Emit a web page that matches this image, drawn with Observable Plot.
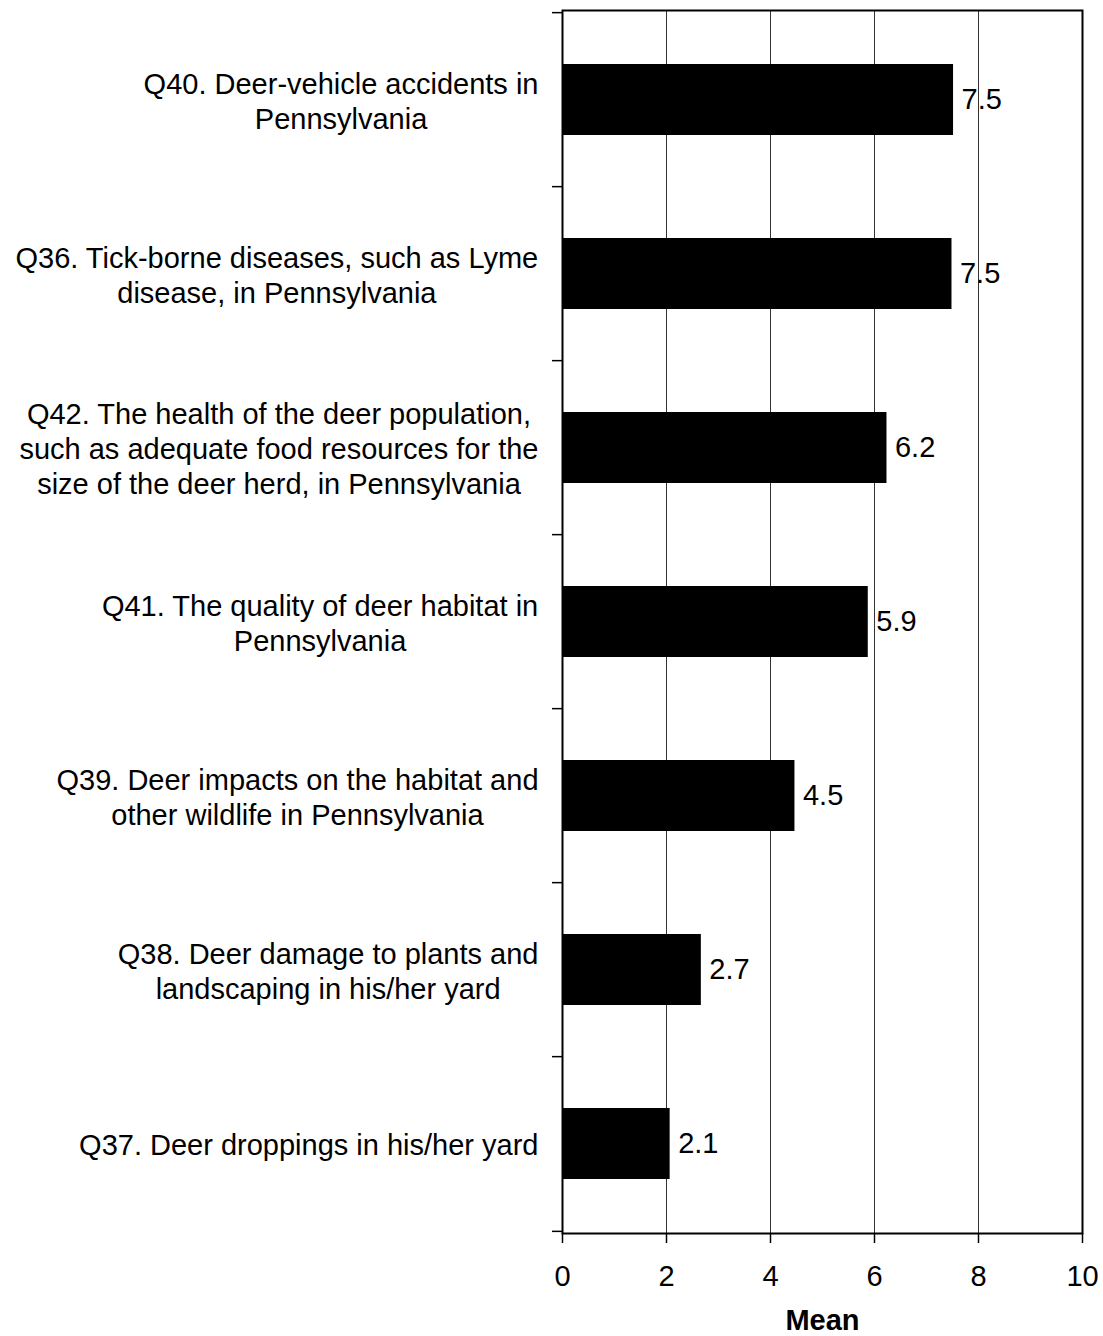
<!DOCTYPE html>
<html><head><meta charset="utf-8">
<script src="https://cdn.jsdelivr.net/npm/d3@7"></script>
<script src="https://cdn.jsdelivr.net/npm/@observablehq/plot@0.6"></script>
<style>body{margin:0;background:#fff;}</style>
</head><body><div id="chart"></div>
<script>
const categories = ["Q40", "Q36", "Q42", "Q41", "Q39", "Q38", "Q37"];
const labelLines = [
  ["Q40. Deer-vehicle accidents in", "Pennsylvania"],
  ["Q36. Tick-borne diseases, such as Lyme", "disease, in Pennsylvania"],
  ["Q42. The health of the deer population,", "such as adequate food resources for the", "size of the deer herd, in Pennsylvania"],
  ["Q41. The quality of deer habitat in", "Pennsylvania"],
  ["Q39. Deer impacts on the habitat and", "other wildlife in Pennsylvania"],
  ["Q38. Deer damage to plants and", "landscaping in his/her yard"],
  ["Q37. Deer droppings in his/her yard"]
];
const means = [7.52, 7.49, 6.24, 5.88, 4.47, 2.67, 2.07];
const xTicks = [0, 2, 4, 6, 8, 10];
const gridValues = [2, 4, 6, 8];
const axisTitle = "Mean";

const FONT = "'Liberation Sans', Arial, Helvetica, sans-serif";
const W = 1103, H = 1336, mL = 562, mT = 10, mR = 21, mB = 103;
const FS = 29;
const step = (H - mT - mB) / categories.length;
const pxPerUnit = (W - mL - mR) / 10;

const data = categories.map((c, i) => ({cat: c, mean: means[i], lines: labelLines[i]}));

const ctx = document.createElement("canvas").getContext("2d");
ctx.font = `${FS}px ${FONT}`;

const labelMarks = data.map(d => {
  const w = Math.max(...d.lines.map(l => ctx.measureText(l).width));
  return Plot.text([d], {
    y: "cat", text: r => r.lines.join("\n"), frameAnchor: "left",
    textAnchor: "middle", lineAnchor: "middle", dx: -24 - w / 2,
    lineHeight: 1.2, fontSize: FS, fill: "black"
  });
});

const chart = Plot.plot({
  width: W, height: H,
  marginLeft: mL, marginTop: mT, marginRight: mR, marginBottom: mB,
  style: {fontFamily: FONT, background: "white", color: "black"},
  x: {domain: [0, 10], axis: null},
  y: {domain: categories, paddingInner: 0.593, paddingOuter: 0.2965, axis: null},
  marks: [
    Plot.ruleX(gridValues, {stroke: "#333", strokeWidth: 1}),
    Plot.barX(data, {x: "mean", y: "cat", fill: "black"}),
    Plot.frame({stroke: "black", strokeWidth: 2}),
    Plot.ruleY(data, {y: "cat", dy: -step / 2, x1: -10 / pxPerUnit, x2: 0, stroke: "black", strokeWidth: 1.5}),
    Plot.ruleY([data[data.length - 1]], {y: "cat", dy: step / 2, x1: -10 / pxPerUnit, x2: 0, stroke: "black", strokeWidth: 1.5}),
    Plot.axisX(xTicks, {tickSize: 10, tickPadding: 22, fontSize: FS, label: null, stroke: "black", strokeWidth: 1.5, fill: "black"}),
    Plot.text(data, {x: "mean", y: "cat", text: d => d.mean.toFixed(1), textAnchor: "start", dx: 8, fontSize: FS, fill: "black"}),
    ...labelMarks,
    Plot.text([axisTitle], {text: d => d, frameAnchor: "bottom", dy: 87, lineAnchor: "middle", fontSize: FS, fontWeight: "bold", fill: "black"})
  ]
});
document.getElementById("chart").appendChild(chart);
</script>
</body></html>
